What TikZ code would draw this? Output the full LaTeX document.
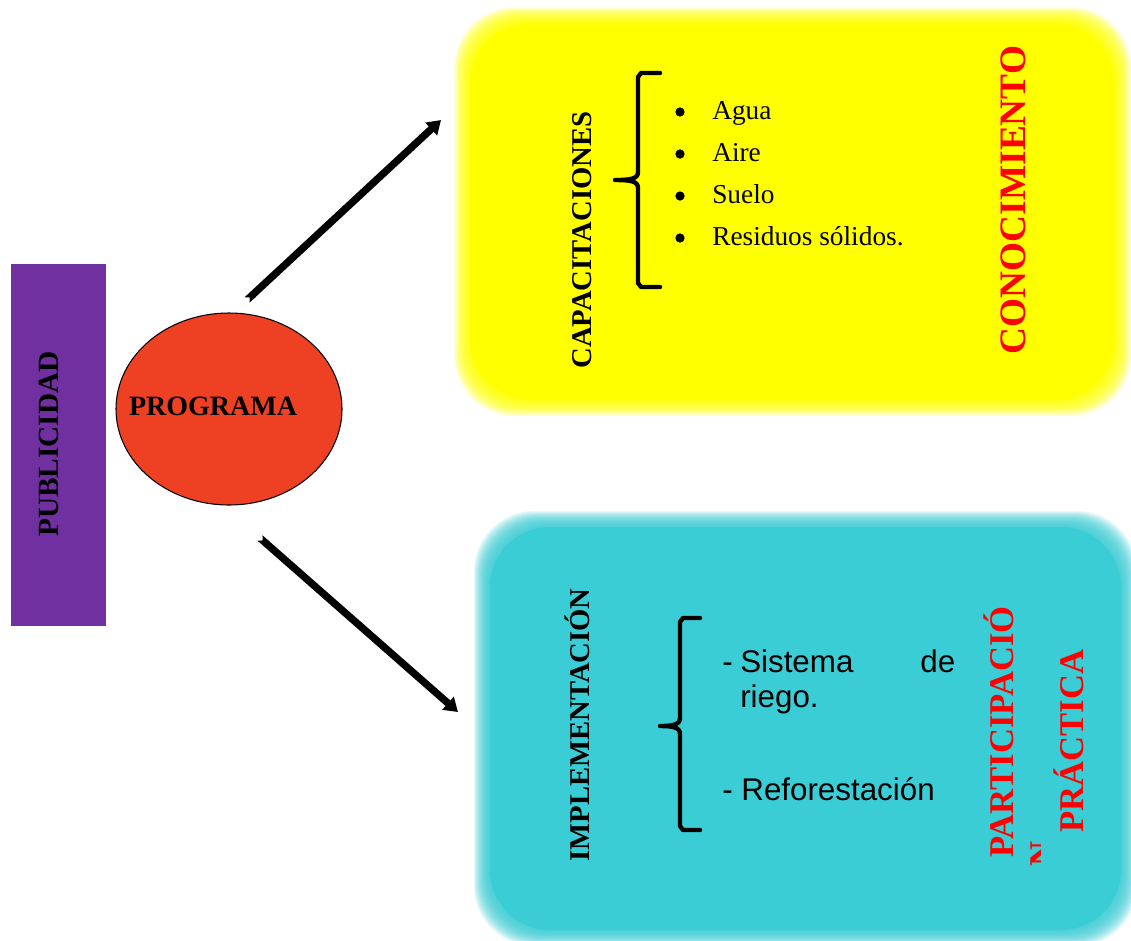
\documentclass[tikz,border=0pt]{standalone}
\usepackage{fontspec}
\setmainfont{Liberation Serif}
\newfontfamily\arialfont{Liberation Sans}
\usetikzlibrary{arrows.meta,shapes.geometric}
\definecolor{pubpurple}{RGB}{112,48,160}
\definecolor{progred}{RGB}{238,65,36}
\definecolor{capyellow}{RGB}{255,255,0}
\definecolor{impcyan}{RGB}{59,205,213}
\definecolor{kwred}{RGB}{255,0,0}
\tikzset{
  vtxt/.style={rotate=90, anchor=base, inner sep=0pt, font=\bfseries\fontsize{21.5}{25}\selectfont},
  kwtxt/.style={vtxt, text=kwred, font=\bfseries\fontsize{26}{30}\selectfont},
  bigarr/.style={line width=5.5pt, {Triangle Cap[reversed]}-{Triangle[length=10pt,width=12.5pt]}},
  brc/.style={line width=3.3pt, line cap=round, line join=round},
  itm/.style={anchor=base west, inner sep=0pt, font=\fontsize{20.5}{24}\selectfont},
  dot/.style={circle, fill=black, inner sep=0pt, minimum size=7pt},
  sans/.style={anchor=base west, inner sep=0pt, font=\arialfont\fontsize{23.5}{26.5}\selectfont},
}
\begin{document}
\begin{tikzpicture}[x=0.75pt,y=-0.75pt]
  \fill[white] (0,0) rectangle (1131,940);
  \useasboundingbox (0,0) rectangle (1131,940);
  % soft boxes
  \foreach \g in {1,...,16}{
    \fill[capyellow, opacity=0.12, rounded corners=45pt] (470-\g,23-\g) rectangle (1115+\g,400+\g);
    \fill[impcyan, opacity=0.12, rounded corners=45pt] (490-\g,527-\g) rectangle (1121+\g,930+\g);
  }
  \fill[capyellow, rounded corners=45pt] (470,23) rectangle (1115,400);
  \fill[impcyan, rounded corners=45pt] (490,527) rectangle (1121,930);

  % left side
  \node[fill=pubpurple, minimum width=71.25pt, minimum height=271.5pt, inner sep=0pt] (pub) at (58.5,445) {};
  \node[vtxt, font=\bfseries\fontsize{22}{25}\selectfont] (pubtxt) at (58,444) {PUBLICIDAD};
  \node[ellipse, draw=black, line width=0.8pt, fill=progred, minimum width=169.5pt, minimum height=144pt, inner sep=0pt] (prog) at (229,409) {};
  \node[anchor=base, inner sep=0pt, font=\bfseries\fontsize{21}{25}\selectfont] (progtxt) at (213,415) {PROGRAMA};

  % arrows
  \coordinate (up0) at (247,300);
  \coordinate (up1) at (441,120);
  \coordinate (dn0) at (260,538);
  \coordinate (dn1) at (458,712);
  \draw[bigarr] (up0) -- (up1);
  \draw[bigarr] (dn0) -- (dn1);

  % upper box
  \node[vtxt] (captxt) at (591,240) {CAPACITACIONES};
  \draw[brc] (660,73) -- (641,73) -- (638,77) -- (638,172)
    .. controls (638,179) and (630,180) .. (615,180)
    .. controls (630,180) and (638,181) .. (638,188) -- (638,283) -- (641,287) -- (660,287);
  \foreach \t [count=\i] in {Agua,Aire,Suelo,Residuos sólidos.}{
    \node[dot] (bul\i) at (680,112+42*\i-42) {};
    \node[itm] (item\i) at (712,119+42*\i-42) {\t};
  }
  \node[kwtxt, font=\bfseries\fontsize{28}{32}\selectfont] (cono) at (1025,200) {CONOCIMIENTO};

  % lower box
  \node[vtxt, font=\bfseries\fontsize{21.5}{25}\selectfont] (imptxt) at (589,725) {IMPLEMENTACIÓN};
  \draw[brc] (700,618) -- (683,618) -- (680,622) -- (680,718)
    .. controls (680,725) and (672,726) .. (660,726)
    .. controls (672,726) and (680,727) .. (680,734) -- (680,826) -- (683,830) -- (700,830);
  \node[sans, text width=161.25pt, align=justify] (riego) at (740,672)
    {\tolerance=10000\hyphenpenalty=10000
     \noindent\hspace*{-13.5pt}\makebox[13.5pt][l]{-}Sistema de riego.};
  \node[sans] (refor) at (722,800) {- Reforestación};
  \node[kwtxt] (parti) at (1013,732) {PARTICIPACIÓ};
  \begin{scope}
    \clip (1025,837) rectangle (1040,868);
    \node[kwtxt, anchor=base west] (partn) at (1053,867) {N};
  \end{scope}
  \node[kwtxt] (pract) at (1083,741) {PRÁCTICA};
\end{tikzpicture}
\end{document}
